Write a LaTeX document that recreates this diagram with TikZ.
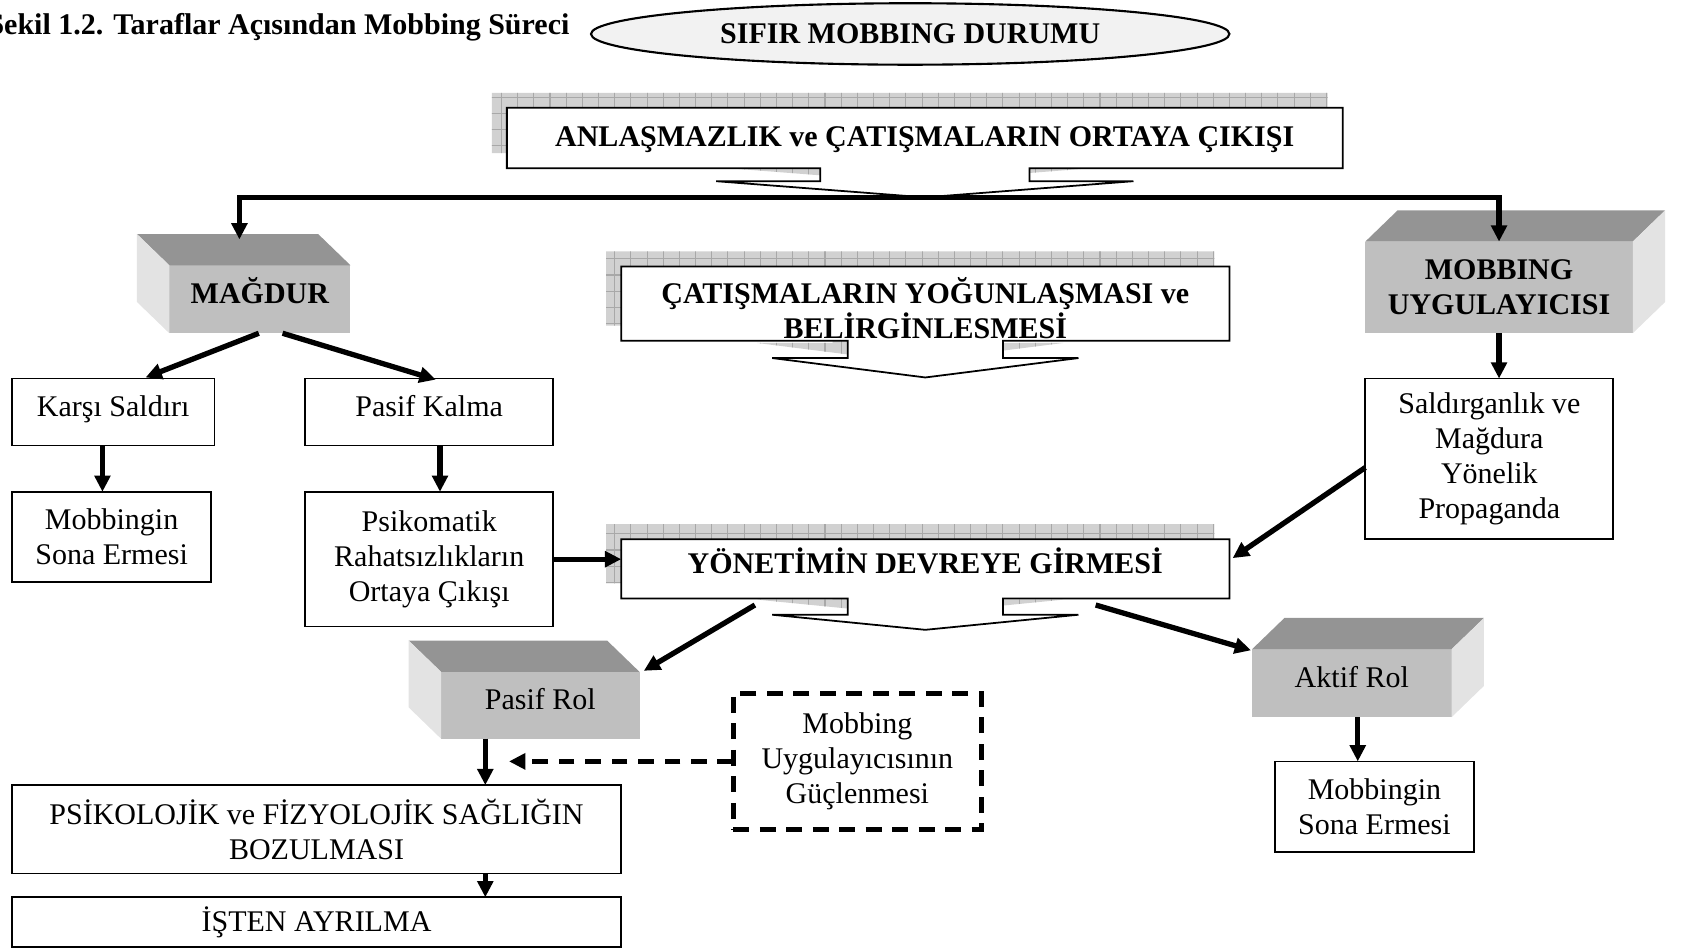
\documentclass[tikz,border=0pt]{standalone}
\usepackage{fontspec}
\setmainfont{Liberation Serif}
\usetikzlibrary{arrows.meta,calc,shapes.geometric}
\newlength\ux \setlength\ux{0.3055pt}
\newcommand\fs{\fontsize{8.5}{9.9}\selectfont}
% box with a short stem and a flat arrow head underneath:
% #1 cx, #2 half width, #3 top, #4 bottom, #5 stem half, #6 head half, #7 head y, #8 tip y
\newcommand\callpath[8]{({#1-#2},#3) -- ({#1+#2},#3) -- ({#1+#2},#4) -- ({#1+#5},#4) -- ({#1+#5},#7) -- ({#1+#6},#7) -- (#1,#8) -- ({#1-#6},#7) -- ({#1-#5},#7) -- ({#1-#5},#4) -- ({#1-#2},#4) -- cycle}
\tikzset{
  every node/.style={font=\fs, outer sep=0pt},
  plain/.style={draw, line width=0.5pt, fill=white, inner sep=0pt, align=center},
  dashbox/.style={draw, line width=1.3pt, dash pattern=on 4.5pt off 3pt, inner sep=0pt, align=center},
  face/.style={fill=black!25, inner sep=0pt, align=center},
  oneline/.style={text height=6pt, text depth=3.4pt},
  topf/.style={fill=black!42},
  sidef/.style={fill=black!11},
  callout/.style={draw, line width=0.5pt, fill=white},
  shadowfill/.style={fill=black!18},
  shadowgrid/.style={draw=black!34, line width=0.3pt},
  conn/.style={line width=1.5pt, -{Triangle[length=4.6pt,width=4.4pt]}},
  dconn/.style={line width=1.5pt, dash pattern=on 4.5pt off 3pt, -{Triangle[length=4.6pt,width=4.4pt]}},
  ell/.style={ellipse, draw, line width=0.6pt, fill=black!5, inner sep=0pt}
}
\begin{document}
\begin{tikzpicture}[x=0.3055pt, y=-0.3055pt]
\useasboundingbox (0,0) rectangle (1568,879);
\clip (0,0) rectangle (1568,879);

% heading and starting state
\node[anchor=base east, inner sep=0pt] (title) at (528,32) {\bfseries Şekil 1.2. Taraflar Açısından Mobbing Süreci};
\node[ell, minimum width=592\ux, minimum height=57\ux] (sifir) at (844,31.5) {\bfseries SIFIR MOBBING DURUMU};

% hatched shadows of the three stage boxes
\begin{scope}
  \clip[shift={(-14,-14)}] \callpath{857.5}{387.5}{100}{156}{97}{193.5}{168}{183};
  \fill[shadowfill] (400,60) rectangle (1300,250);
  \draw[shadowgrid, step=15\ux] (400,60) grid (1300,250);
\end{scope}
\begin{scope}
  \clip[shift={(-14,-14)}] \callpath{858}{282}{247}{316}{72}{142}{332}{350};
  \fill[shadowfill] (500,200) rectangle (1200,400);
  \draw[shadowgrid, step=15\ux] (500,200) grid (1200,400);
\end{scope}
\begin{scope}
  \clip[shift={(-14,-14)}] \callpath{858}{282}{500}{555}{72}{142}{570}{584};
  \fill[shadowfill] (500,450) rectangle (1200,620);
  \draw[shadowgrid, step=15\ux] (500,450) grid (1200,620);
\end{scope}

% stage boxes
\draw[callout] \callpath{857.5}{387.5}{100}{156}{97}{193.5}{168}{183};
\node[inner sep=0pt, text height=6pt, text depth=1pt, minimum width=775\ux, minimum height=56\ux] (anlas) at (857.5,128) {\bfseries ANLAŞMAZLIK ve ÇATIŞMALARIN ORTAYA ÇIKIŞI};
\coordinate (anlastip) at (857.5,183);

\draw[callout] \callpath{858}{282}{247}{316}{72}{142}{332}{350};
\node[inner sep=0pt, align=center, minimum width=564\ux, minimum height=69\ux] (yogun) at (858,286) {\bfseries ÇATIŞMALARIN YOĞUNLAŞMASI ve\\\bfseries BELİRGİNLESMESİ};

\draw[callout] \callpath{858}{282}{500}{555}{72}{142}{570}{584};
\node[inner sep=0pt, oneline, minimum width=564\ux, minimum height=55\ux] (yon) at (858,527.5) {\bfseries YÖNETİMİN DEVREYE GİRMESİ};

% raised blocks: victim and perpetrator
\node[face, oneline, minimum width=168\ux, minimum height=63\ux] (mag) at (241,277.5) {\bfseries MAĞDUR};
\fill[topf] (mag.north west) -- (mag.north east) -- ++(-30,-29) -- ($(mag.north west)+(-30,-29)$) -- cycle;
\fill[sidef] (mag.north west) -- ++(-30,-29) -- ($(mag.south west)+(-30,-29)$) -- (mag.south west) -- cycle;

\node[face, minimum width=248\ux, minimum height=85\ux] (mob) at (1390,266.5) {\bfseries MOBBING\\\bfseries UYGULAYICISI};
\fill[topf] (mob.north west) -- (mob.north east) -- ++(30,-29) -- ($(mob.north west)+(30,-29)$) -- cycle;
\fill[sidef] (mob.north east) -- ++(30,-29) -- ($(mob.south east)+(30,-29)$) -- (mob.south east) -- cycle;

\node[face, oneline, minimum width=184\ux, minimum height=62\ux] (prol) at (501,654) {Pasif Rol};
\fill[topf] (prol.north west) -- (prol.north east) -- ++(-30,-29) -- ($(prol.north west)+(-30,-29)$) -- cycle;
\fill[sidef] (prol.north west) -- ++(-30,-29) -- ($(prol.south west)+(-30,-29)$) -- (prol.south west) -- cycle;

\node[face, oneline, minimum width=185\ux, minimum height=63\ux] (akt) at (1253.5,633.5) {Aktif Rol};
\fill[topf] (akt.north west) -- (akt.north east) -- ++(30,-29) -- ($(akt.north west)+(30,-29)$) -- cycle;
\fill[sidef] (akt.north east) -- ++(30,-29) -- ($(akt.south east)+(30,-29)$) -- (akt.south east) -- cycle;

% plain boxes
\node[plain, oneline, minimum width=188\ux, minimum height=62\ux] (karsi) at (105,382) {Karşı Saldırı};
\node[plain, oneline, minimum width=230\ux, minimum height=62\ux] (pasifk) at (398,382) {Pasif Kalma};
\node[plain, minimum width=185\ux, minimum height=84\ux] (sona1) at (103.5,498) {Mobbingin\\Sona Ermesi};
\node[plain, minimum width=230\ux, minimum height=125\ux] (psiko) at (398,518.5) {Psikomatik\\Rahatsızlıkların\\Ortaya Çıkışı};
\node[plain, minimum width=230\ux, minimum height=149\ux] (sald) at (1381,425.5) {Saldırganlık ve\\Mağdura\\Yönelik\\Propaganda};
\node[plain, minimum width=565\ux, minimum height=82\ux] (psikol) at (293.5,769) {PSİKOLOJİK ve FİZYOLOJİK SAĞLIĞIN\\BOZULMASI};
\node[plain, minimum width=565\ux, minimum height=46\ux] (isten) at (293.5,855) {İŞTEN AYRILMA};
\node[plain, minimum width=185\ux, minimum height=84\ux] (sona2) at (1274.5,748) {Mobbingin\\Sona Ermesi};
\node[dashbox, minimum width=230\ux, minimum height=126\ux] (guc) at (795,706) {Mobbing\\Uygulayıcısının\\Güçlenmesi};

% connectors
\coordinate (magin) at (222,222);
\coordinate (mobin) at (1390,224);
\draw[conn] (anlastip) -| (magin);
\draw[conn] (anlastip) -| (mobin);

\draw[conn] ($(mag.south)+(-1,0)$) -- ($(karsi.north)+(30,-1)$);
\draw[conn] ($(mag.south)+(21,0)$) -- ($(pasifk.north)+(6,1)$);
\coordinate (k1) at ($(karsi.south)+(-10,0)$);
\draw[conn] (k1) -- (k1 |- sona1.north);
\coordinate (k2) at ($(pasifk.south)+(10,0)$);
\draw[conn] (k2) -- (k2 |- psiko.north);
\draw[conn] (psiko.east) -- (psiko.east -| yon.west);

\draw[conn] (mob.south) -- (mob.south |- sald.north);
\draw[conn] ($(sald.west)+(0,8)$) -- ($(yon.east)+(3,-10)$);

\draw[conn] ($(yon.south)+(-158,6)$) -- ($(prol.north east)+(4,-1)$);
\draw[conn] ($(yon.south)+(158,6)$) -- ($(akt.north west)+(-1,1)$);

\coordinate (p1) at ($(prol.south)+(-51,0)$);
\draw[conn] (p1) -- (p1 |- psikol.north);
\coordinate (g1) at ($(guc.west -| p1)+(22,0)$);
\draw[dconn] (guc.west) -- (g1);
\coordinate (p2) at (psikol.south -| p1);
\draw[conn] (p2) -- (p2 |- isten.north);

\coordinate (a1) at ($(akt.south)+(5.5,0)$);
\draw[conn] (a1) -- (a1 |- sona2.north);
\end{tikzpicture}
\end{document}
